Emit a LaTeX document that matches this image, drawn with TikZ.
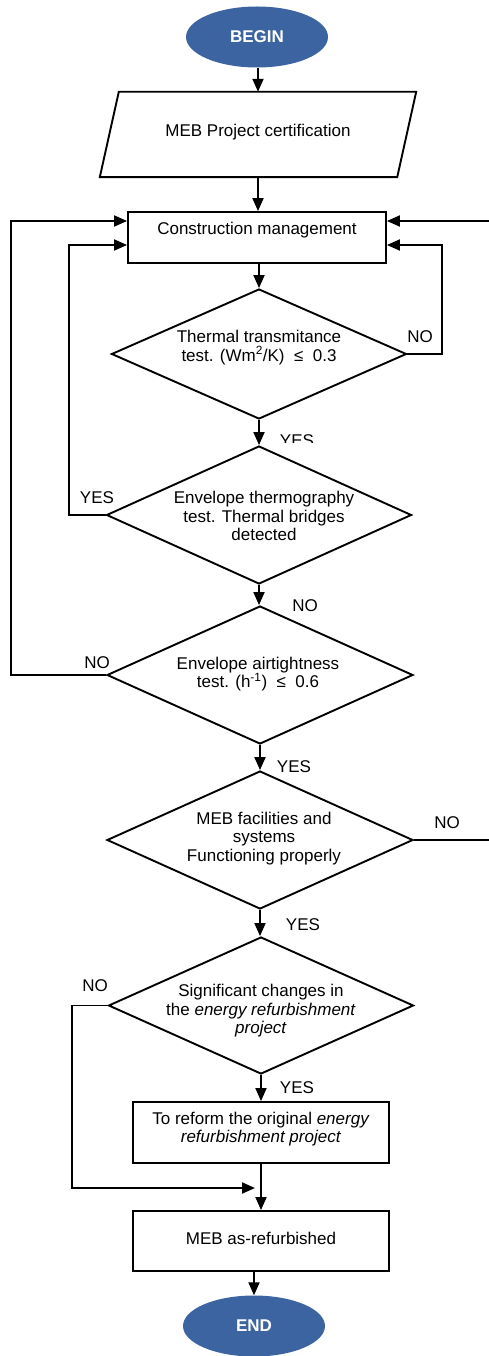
\documentclass[tikz,border=0pt]{standalone}
\usepackage{fontspec}
\setmainfont{Liberation Sans}
\setsansfont{Liberation Sans}
\usetikzlibrary{shapes.geometric,arrows.meta}
\definecolor{termblue}{RGB}{59,100,160}
\begin{document}
\begin{tikzpicture}[x=1pt,y=-1pt, font=\fontsize{17}{18.5}\selectfont,
  ln/.style={line width=1.9pt, line join=miter},
  arr/.style={ln, -{Triangle[length=13pt,width=11pt]}},
  term/.style={ellipse, fill=termblue, draw=none, minimum width=142pt, minimum height=61pt, inner sep=0pt, text=white, font=\fontsize{17}{18.5}\selectfont\bfseries},
  proc/.style={rectangle, draw, line width=1.9pt, minimum width=256pt, inner sep=0pt},
  dec/.style={diamond, draw, line width=1.9pt, inner sep=0pt},
  io/.style={rectangle, minimum width=297pt, minimum height=85pt, inner sep=0pt},
  lab/.style={inner sep=0pt, align=center}
]
\clip (0,0) rectangle (489,1356);
\fill[white] (0,0) rectangle (489,1356);

% nodes
\node[term] (begin) at (257,37) {BEGIN};
\node[io, label={[lab,yshift=2.5pt]center:MEB Project certification}] (cert) at (258,134.5) {};
\draw[ln] ([xshift=9.5pt]cert.north west) -- ([xshift=9.5pt]cert.north east)
  -- ([xshift=-9.5pt]cert.south east) -- ([xshift=-9.5pt]cert.south west) -- cycle;
\node[proc, minimum width=258pt, minimum height=51pt,
  label={[lab,yshift=7.5pt]center:Construction management}] (cm) at (257,237.5) {};
\node[dec, minimum width=295pt, minimum height=130pt,
  label={[lab,yshift=6.5pt]center:{Thermal transmitance\\test. (Wm\textsuperscript{2}/K) \ ≤ \ 0.3}}] (d1) at (259,354) {};
\node[dec, minimum width=305pt, minimum height=138pt,
  label={[lab,xshift=5pt,yshift=-1pt]center:{Envelope thermography\\test. Thermal bridges\\detected}}] (d2) at (259,515) {};
\node[dec, minimum width=306pt, minimum height=138pt,
  label={[lab,xshift=-2pt,yshift=1pt]center:{Envelope airtightness\\test. (h\textsuperscript{-1}) \ ≤ \ 0.6}}] (d3) at (260,675) {};
\node[dec, minimum width=306pt, minimum height=138pt,
  label={[lab,xshift=4pt,yshift=1.5pt]center:{MEB facilities and\\systems\\Functioning properly}}] (d4) at (260,840) {};
\node[dec, minimum width=305pt, minimum height=137pt,
  label={[lab,yshift=-5.5pt]center:{Significant changes in\\the \textit{energy refurbishment}\\\textit{project}}}] (d5) at (261,1005.5) {};
\node[proc, minimum height=61pt,
  label={[lab,yshift=3.5pt]center:{To reform the original \textit{energy}\\\textit{refurbishment project}}}] (reform) at (261,1132.5) {};
\node[proc, minimum height=60pt,
  label={[lab,yshift=3pt]center:MEB as-refurbished}] (mebr) at (261,1241) {};
\node[term] (end) at (254,1326) {END};

% helper coordinates
\coordinate (ri) at (442,245);
\coordinate (li) at (69,245);
\coordinate (lo) at (11,221);
\coordinate (ro) at (496,221);
\coordinate (lb) at (72,1188);

% main flow
\draw[arr] (begin.south -| cert.north) -- (cert.north);
\draw[arr] (cert.south) -- (cert.south |- cm.north);
\draw[arr] (cm.south -| d1.north) -- (d1.north);
\draw[arr] (d1.south) -- (d2.north);
\draw[arr] (d2.south) -- (d2.south |- d3.north);
\draw[arr] (d3.south) -- (d3.south |- d4.north);
\draw[arr] (d4.south) -- (d4.south |- d5.north);
\draw[arr] (d5.south) -- (d5.south |- reform.north);
\draw[arr] (reform.south) -- (mebr.north);
\draw[arr] (end.north |- mebr.south) -- (end.north);

% loops
\draw[arr] (d1.east) -| (ri) -- (ri -| cm.east);
\draw[arr] (d2.west) -| (li) -- (li -| cm.west);
\draw[arr] (d3.west) -| (lo) -- (lo -| cm.west);
\draw[arr] (d4.east) -| (ro) -- (ro -| cm.east);
\draw[arr] (d5.west) -| (lb) -- ([xshift=-6pt]lb -| mebr.north);

% branch labels
\node[lab] (no1) at (420,337) {NO};
\begin{scope}
  \clip (270,420) rectangle (330,442);
  \node[lab] (yes1) at (297,440.5) {YES};
\end{scope}
\node[lab] (yes2) at (97,498) {YES};
\node[lab] (no2) at (305,606) {NO};
\node[lab] (no3) at (97,663) {NO};
\node[lab] (yes3) at (294,767) {YES};
\node[lab] (no4) at (447,823) {NO};
\node[lab] (yes4) at (303,925) {YES};
\node[lab] (no5) at (95,986) {NO};
\node[lab] (yes5) at (297,1088) {YES};
\end{tikzpicture}
\end{document}
